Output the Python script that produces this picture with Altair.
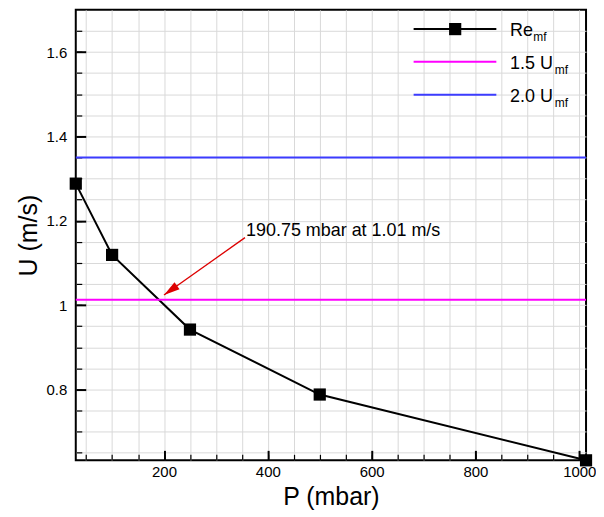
import altair as alt
import pandas as pd

# ---- data ----
pressure = [30, 100, 250, 500, 1013]          # mbar
velocity = [1.288, 1.119, 0.942, 0.788, 0.632]  # m/s
u_15 = 1.0125   # 1.5 U_mf
u_20 = 1.35     # 2.0 U_mf
line_names = ["1.5 U", "2.0 U"]
line_values = [u_15, u_20]
line_colors = ["#ff00ff", "#3c3cff"]

x_major = [200, 400, 600, 800, 1000]
x_minor = list(range(50, 1001, 50))
y_major = [0.8, 1.0, 1.2, 1.4, 1.6]
y_minor = [round(0.65 + 0.05 * i, 2) for i in range(21)]

annot_text = "190.75 mbar at 1.01 m/s"
annot_pos = [358, 1.1636]
arrow_from = [356, 1.16]
arrow_to = [200, 1.024]

FONT = "Liberation Sans"

xs = alt.Scale(domain=[30, 1013], nice=False, zero=False)
ys = alt.Scale(domain=[0.632, 1.7], nice=False, zero=False)

df = pd.DataFrame({"P": pressure, "U": velocity})

main_x_axis = alt.Axis(
    values=x_minor, grid=True, gridColor="#d9d9d9", gridWidth=1,
    ticks=False, tickSize=0, domain=False,
    labelExpr="datum.value % 200 === 0 ? format(datum.value, 'd') : ''",
    labelFontSize=15, labelFont=FONT, labelColor="black", labelPadding=4,
    labelFlush=False, labelOverlap=False,
    title="P (mbar)", titleFontSize=25, titleFont=FONT, titleFontWeight="normal",
    titleColor="black", titlePadding=5,
)
main_y_axis = alt.Axis(
    values=y_minor, grid=True, gridColor="#d9d9d9", gridWidth=1,
    ticks=False, tickSize=0, domain=False,
    labelExpr="abs(datum.value*5 - round(datum.value*5)) < 1e-6 ? format(datum.value, '~g') : ''",
    labelFontSize=15, labelFont=FONT, labelColor="black", labelPadding=9,
    labelFlush=False, labelOverlap=False,
    title="U (m/s)", titleFontSize=25, titleFont=FONT, titleFontWeight="normal",
    titleColor="black", titlePadding=5,
)

ref_df = pd.DataFrame({"name": line_names, "U": line_values})
hlines = alt.Chart(ref_df).mark_rule(strokeWidth=2).encode(
    y=alt.Y("U:Q", scale=ys, axis=None),
    color=alt.Color("name:N", scale=alt.Scale(domain=line_names, range=line_colors), legend=None),
)

line = alt.Chart(df).mark_line(color="black", strokeWidth=2).encode(
    x=alt.X("P:Q", scale=xs, axis=main_x_axis),
    y=alt.Y("U:Q", scale=ys, axis=main_y_axis),
)
pts = alt.Chart(df).mark_point(shape="square", filled=True, color="black", opacity=1, size=150).encode(
    x=alt.X("P:Q", scale=xs, axis=None),
    y=alt.Y("U:Q", scale=ys, axis=None),
)


def tick_layer(xvals, yvals, size, width):
    return alt.Chart(df).mark_point(opacity=0).encode(
        x=alt.X("P:Q", scale=xs, axis=alt.Axis(
            values=xvals, orient="bottom", offset=-size, tickSize=size, tickWidth=width,
            tickColor="black", tickOpacity=1, labels=False, domain=False, grid=False, title=None)),
        y=alt.Y("U:Q", scale=ys, axis=alt.Axis(
            values=yvals, orient="left", offset=-size, tickSize=size, tickWidth=width,
            tickColor="black", tickOpacity=1, labels=False, domain=False, grid=False, title=None)),
    )


major_ticks = tick_layer(x_major, y_major, 10, 2)
minor_ticks = tick_layer(x_minor, y_minor, 6, 1.2)

arrow_df = pd.DataFrame({"x": [arrow_from[0]], "y": [arrow_from[1]],
                         "x2": [arrow_to[0]], "y2": [arrow_to[1]]})
arrow_line = alt.Chart(arrow_df).mark_rule(color="#dd0000", strokeWidth=1.3).encode(
    x=alt.X("x:Q", scale=xs, axis=None), y=alt.Y("y:Q", scale=ys, axis=None),
    x2="x2:Q", y2="y2:Q",
)
arrow_head = alt.Chart(arrow_df).mark_point(
    shape="M0,0 L0.55,2 L-0.55,2 Z", filled=True, color="#dd0000", opacity=1,
    size=256, angle=234.7,
).encode(x=alt.X("x2:Q", scale=xs, axis=None), y=alt.Y("y2:Q", scale=ys, axis=None))

annot_df = pd.DataFrame({"x": [annot_pos[0]], "y": [annot_pos[1]], "t": [annot_text]})
annot = alt.Chart(annot_df).mark_text(
    align="left", baseline="alphabetic", fontSize=18, font=FONT, color="black"
).encode(x=alt.X("x:Q", scale=xs, axis=None), y=alt.Y("y:Q", scale=ys, axis=None), text="t:N")

# ---- hand-built legend (subscripts need separate text) ----
one = pd.DataFrame({"a": [0]})
rows = [19.3, 52, 85.3]
leg_layers = []
leg_colors = ["black", line_colors[0], line_colors[1]]
leg_main = ["Re", "1.5 U", "2.0 U"]
sub_x = [459, 480.7, 480.7]
for i in range(3):
    leg_layers.append(alt.Chart(one).mark_rule(color=leg_colors[i], strokeWidth=2).encode(
        x=alt.value(339), x2=alt.value(422), y=alt.value(rows[i])))
    leg_layers.append(alt.Chart(one).mark_text(
        align="left", baseline="alphabetic", fontSize=18, font=FONT, color="black",
        text=leg_main[i]).encode(x=alt.value(435.7), y=alt.value(rows[i] + 7)))
    leg_layers.append(alt.Chart(one).mark_text(
        align="left", baseline="alphabetic", fontSize=12, font=FONT, color="black",
        text="mf").encode(x=alt.value(sub_x[i]), y=alt.value(rows[i] + 12)))
leg_layers.append(alt.Chart(one).mark_point(
    shape="square", filled=True, color="black", opacity=1, size=150).encode(
    x=alt.value(380.7), y=alt.value(rows[0])))

chart = alt.layer(
    line, minor_ticks, major_ticks, hlines, pts, arrow_line, arrow_head, annot, *leg_layers
).resolve_axis(x="independent", y="independent").properties(
    width=512, height=452,
    background="white",
    autosize=alt.AutoSizeParams(type="none"),
    padding={"left": 68, "top": 1, "right": 10, "bottom": 55},
).configure_view(stroke="black", strokeWidth=2)

chart.save("out.html", embed_options={"renderer": "svg", "actions": False})
